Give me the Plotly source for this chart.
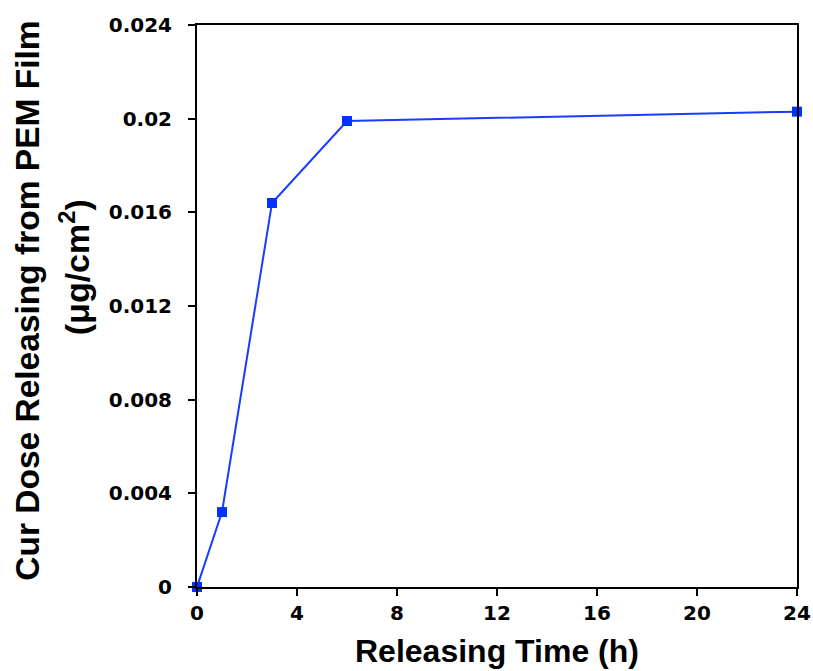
import plotly.graph_objects as go

time_h = [0, 1, 3, 6, 24]
dose = [0.0, 0.0032, 0.0164, 0.0199, 0.0203]

x_ticks = [0, 4, 8, 12, 16, 20, 24]
y_ticks = [0, 0.004, 0.008, 0.012, 0.016, 0.02, 0.024]
y_tick_text = ["0", "0.004", "0.008", "0.012", "0.016", "0.02", "0.024"]

fig = go.Figure()
fig.add_trace(go.Scatter(
    x=time_h, y=dose, mode="lines+markers",
    line=dict(color="#1a3cff", width=2),
    marker=dict(symbol="square", size=10, color="#0033ff"),
    cliponaxis=False, showlegend=False,
))

tick_font = dict(family="DejaVu Sans", size=20, color="black", weight="bold")
fig.update_layout(
    width=813, height=671,
    margin=dict(l=197, r=16, t=25, b=84, autoexpand=False),
    plot_bgcolor="white", paper_bgcolor="white",
    xaxis=dict(
        range=[0, 24], tickvals=x_ticks, ticks="outside", ticklen=7, tickwidth=2,
        tickcolor="black", showline=True, linewidth=2, linecolor="black", mirror=True,
        showgrid=False, zeroline=False, tickfont=tick_font, automargin=False,
    ),
    yaxis=dict(
        range=[0, 0.024], tickvals=y_ticks, ticktext=y_tick_text, ticks="outside", ticklen=7, tickwidth=2,
        tickcolor="black", showline=True, linewidth=2, linecolor="black", mirror=True,
        showgrid=False, zeroline=False, tickfont=tick_font, automargin=False,
        ticklabelstandoff=12,
    ),
)

fig.add_annotation(
    text="<b>Releasing Time (h)</b>",
    xref="paper", yref="paper", x=0.5, y=-0.114, xanchor="center", yanchor="middle",
    showarrow=False, font=dict(family="Liberation Sans", size=32, color="black"),
)
fig.add_annotation(
    text="<b>Cur Dose Releasing from PEM Film</b>", textangle=-90,
    xref="paper", yref="paper", x=-0.282, y=0.509, xanchor="center", yanchor="middle",
    showarrow=False, font=dict(family="Liberation Sans", size=33.5, color="black"),
)
fig.add_annotation(
    text="<b>(μg/cm<sup>2</sup>)</b>", textangle=-90,
    xref="paper", yref="paper", x=-0.205, y=0.569, xanchor="center", yanchor="middle",
    showarrow=False, font=dict(family="Liberation Sans", size=34, color="black"),
)

fig.write_html("out.html")
